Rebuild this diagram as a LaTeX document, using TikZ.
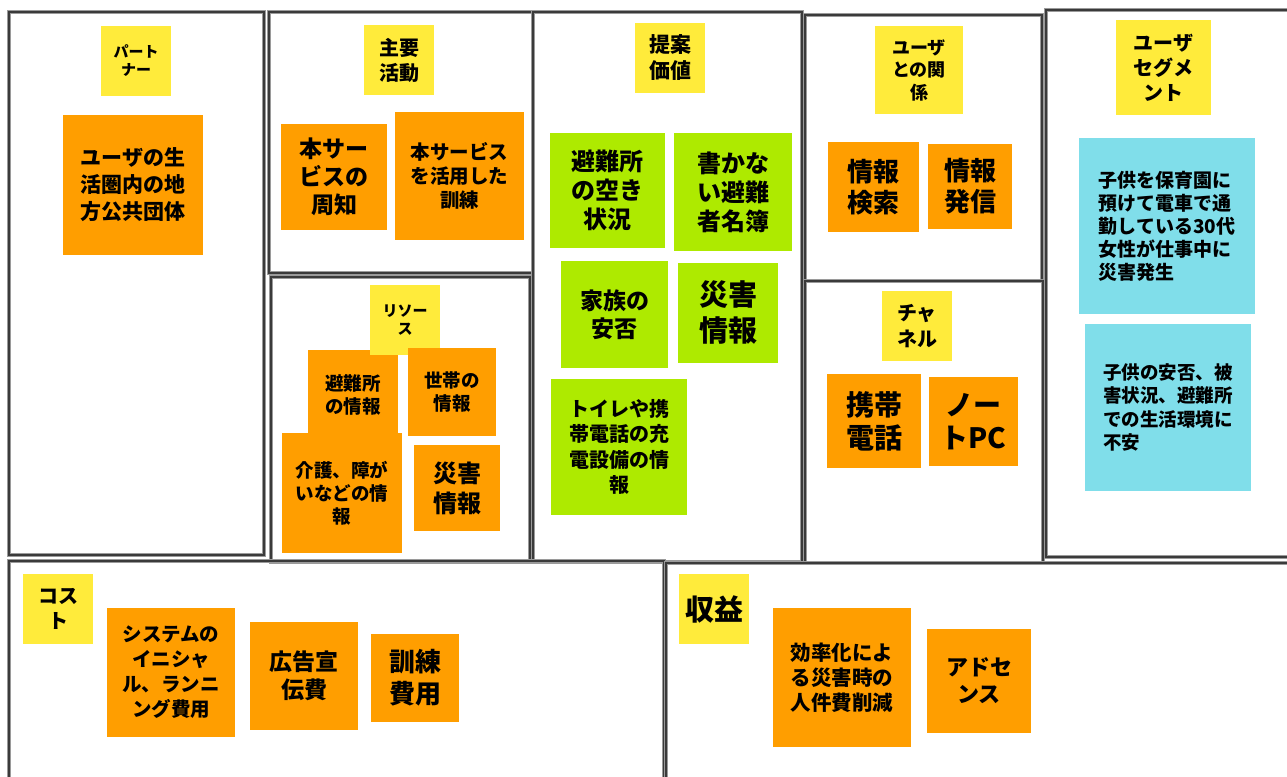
\documentclass[tikz,border=0pt]{standalone}
\usepackage{fontspec}
\setmainfont{Noto Sans CJK JP}
\definecolor{noteyellow}{HTML}{FFEB3B}
\definecolor{noteorange}{HTML}{FF9E00}
\definecolor{notegreen}{HTML}{AEEA00}
\definecolor{notecyan}{HTML}{80DEEA}
\definecolor{framegray}{HTML}{3A3A3A}
\definecolor{framelight}{HTML}{9A9A9A}
\tikzset{
  frame/.style={draw=framelight, line width=3.4pt, postaction={draw=framegray, line width=2pt}},
  note/.style={inner sep=0pt, align=center, text=black},
  ynote/.style={note, fill=noteyellow},
  onote/.style={note, fill=noteorange},
  gnote/.style={note, fill=notegreen},
  cnote/.style={note, fill=notecyan, align=left},
  fs/.style 2 args={font=\bfseries\fontsize{#1}{#2}\selectfont},
  sz/.style 2 args={minimum width=#1pt, minimum height=#2pt},
}
\begin{document}
\begin{tikzpicture}[x=1pt,y=-1pt]
\useasboundingbox (0,0) rectangle (1287,776);
\fill[white] (0,0) rectangle (1287,776);
\clip (0,0) rectangle (1287,776);
% frames
\draw[frame] (9,12) rectangle (264,555);
\draw[frame] (269,12) rectangle (533,273);
\draw[frame] (271,277) rectangle (530,562);
\draw[frame] (533,12) rectangle (802,562);
\draw[frame] (805,15) rectangle (1042,281);
\draw[frame] (805,281) rectangle (1043,563);
\draw[frame] (1046,10) rectangle (1300,557);
\draw[frame] (9,561) rectangle (664,800);
\draw[frame] (666,563) rectangle (1300,800);
% partner
\node[ynote, sz={70}{70}, fs={15}{18}] (t1) at (136,61) {パート\\ナー};
\node[onote, sz={140}{140}, fs={21}{27}] (o1) at (133,185) {ユーザの生\\活圏内の地\\方公共団体};
% key activities
\node[ynote, sz={70}{70}, fs={20}{25}] (t2) at (399,60) {主要\\活動};
\node[onote, sz={106}{106}, fs={23}{28}] (o2) at (334,177) {本サー\\ビスの\\周知};
\node[onote, sz={129}{128}, fs={19.5}{24}] (o3) at (459.5,176) {本サービス\\を活用した\\訓練};
% key resources
\node[onote, sz={90}{90}, fs={18.5}{23}] (o4) at (353,395) {避難所\\の情報};
\node[ynote, sz={70}{70}, fs={15}{18}] (t3) at (405,320) {リソー\\ス};
\node[onote, sz={88}{88}, fs={18.5}{23}] (o5) at (452,392) {世帯の\\情報};
\node[onote, sz={120}{120}, fs={18.5}{23}] (o6) at (342,493) {介護、障が\\いなどの情\\報};
\node[onote, sz={86}{86}, fs={24}{30}] (o7) at (457,488) {災害\\情報};
% value proposition
\node[ynote, sz={70}{70}, fs={21}{26}] (t4) at (670,58) {提案\\価値};
\node[gnote, sz={115}{115}, fs={24}{29}] (g1) at (607.5,190.5) {避難所\\の空き\\状況};
\node[gnote, sz={118}{118}, fs={24}{29}] (g2) at (733,192) {書かな\\い避難\\者名簿};
\node[gnote, sz={107}{107}, fs={23}{28}] (g3) at (614.5,314.5) {家族の\\安否};
\node[gnote, sz={100}{100}, fs={29}{36}] (g4) at (728,313) {災害\\情報};
\node[gnote, sz={136}{136}, fs={20}{25.5}] (g5) at (619,447) {トイレや携\\帯電話の充\\電設備の情\\報};
% customer relationships
\node[ynote, sz={88}{88}, fs={18}{22.5}] (t5) at (919,70) {ユーザ\\との関\\係};
\node[onote, sz={91}{90}, fs={26}{31}] (o8) at (873.5,187) {情報\\検索};
\node[onote, sz={84}{85}, fs={26}{31}] (o9) at (970,186.5) {情報\\発信};
% channels
\node[ynote, sz={70}{70}, fs={20}{26}] (t6) at (917,326) {チャ\\ネル};
\node[onote, sz={94}{94}, fs={28}{33}] (o10) at (874,421) {携帯\\電話};
\node[onote, sz={89}{89}, fs={28}{33}] (o11) at (973.5,421.5) {ノー\\トPC};
% customer segments
\node[ynote, sz={95}{95}, fs={20}{25}] (t7) at (1163.5,67.5) {ユーザ\\セグメ\\ント};
\node[cnote, sz={176}{176}, fs={19}{23}] (c1) at (1167,226) {子供を保育園に\\預けて電車で通\\勤している30代\\女性が仕事中に\\災害発生};
\node[cnote, sz={166}{167}, fs={18.5}{23.5}] (c2) at (1168,407.5) {子供の安否、被\\害状況、避難所\\での生活環境に\\不安};
% cost
\node[ynote, sz={70}{70}, fs={20}{25}] (t8) at (58,609) {コス\\ト};
\node[onote, sz={128}{129}, fs={19.5}{25}] (o12) at (171,672.5) {システムの\\イニシャ\\ル、ランニ\\ング費用};
\node[onote, sz={108}{108}, fs={23}{28}] (o13) at (304,676) {広告宣\\伝費};
\node[onote, sz={88}{88}, fs={26}{32}] (o14) at (415,678) {訓練\\費用};
% revenue
\node[ynote, sz={70}{70}, fs={29}{34}] (t9) at (714,609) {収益};
\node[onote, sz={138}{139}, fs={20.5}{25}] (o15) at (842,677.5) {効率化によ\\る災害時の\\人件費削減};
\node[onote, sz={104}{104}, fs={22}{27}] (o16) at (979,681) {アドセ\\ンス};
\end{tikzpicture}
\end{document}
